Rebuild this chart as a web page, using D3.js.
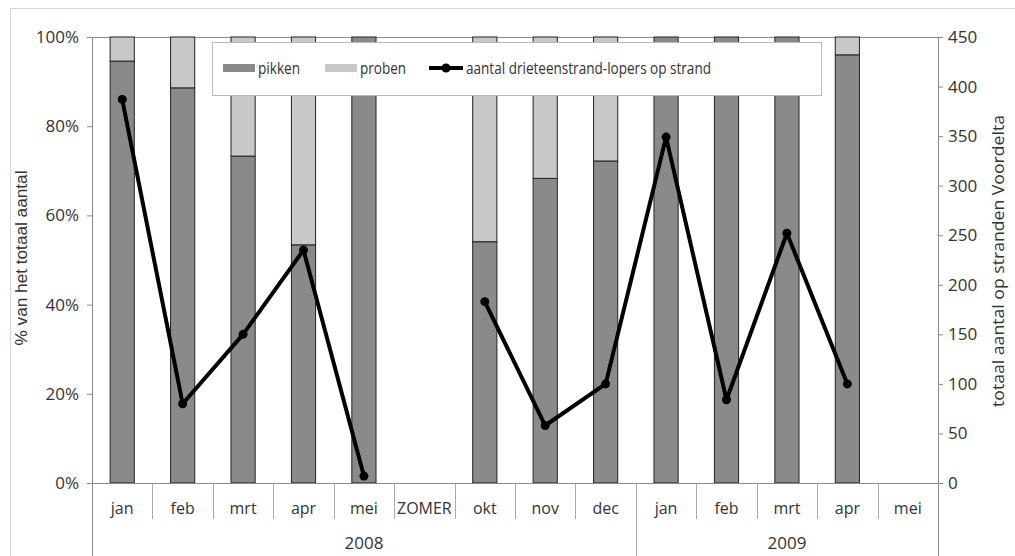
<!DOCTYPE html>
<html><head><meta charset="utf-8">
<script src="https://cdn.jsdelivr.net/npm/d3@7"></script>
<style>
html,body{margin:0;padding:0;background:#fff;}
text{font-family:"Open Sans","Noto Sans",sans-serif;fill:#333;}
</style></head>
<body><svg id="c" width="1015" height="556"></svg>
<script>
const months = ["jan","feb","mrt","apr","mei","ZOMER","okt","nov","dec","jan","feb","mrt","apr","mei"];
const yearLabels = ["2008","2009"];
const yearStart = [0, 9];
const yearEnd = [8, 13];
const pikken = [94.6, 88.6, 73.3, 53.4, 100, null, 54.1, 68.3, 72.2, 100, 100, 100, 96.0, null];
const proben = [5.4, 11.4, 26.7, 46.6, 0, null, 45.9, 31.7, 27.8, 0, 0, 0, 4.0, null];
const counts = [387, 80, 150, 235, 7, null, 183, 58, 100, 349, 84, 252, 100, null];
const pctTicks = [0, 20, 40, 60, 80, 100];
const cntTicks = [0, 50, 100, 150, 200, 250, 300, 350, 400, 450];

const svg = d3.select("#c");
const L = 92, R = 938, T = 37, B = 483;
const idx = months.map((d,i)=>i);
const x = d3.scaleBand().domain(idx).range([L,R]).paddingInner(0.6).paddingOuter(0.3);
const step = x.step();
const yP = d3.scaleLinear().domain([0,100]).range([B,T]);
const yC = d3.scaleLinear().domain([0,450]).range([B,T]);
const boundary = i => x(i) - (step - x.bandwidth())/2;
const FONT = '"Open Sans","Noto Sans",sans-serif';

// outer frame
svg.append("rect").attr("x",10.5).attr("y",8.5).attr("width",1010).attr("height",560)
  .attr("fill","none").attr("stroke","#d8d8d8");

const axisCol = "#8a8a8a";
svg.append("line").attr("x1",L).attr("x2",R).attr("y1",T+0.5).attr("y2",T+0.5).attr("stroke",axisCol);

// bars
const g = svg.append("g");
idx.forEach(i=>{
  if (pikken[i]==null) return;
  g.append("rect").attr("x",x(i)).attr("width",x.bandwidth())
    .attr("y",yP(pikken[i])).attr("height",yP(0)-yP(pikken[i]))
    .attr("fill","#8a8a8a").attr("stroke","#222").attr("stroke-width",1);
  if (proben[i]>0) {
    g.append("rect").attr("x",x(i)).attr("width",x.bandwidth())
      .attr("y",yP(pikken[i]+proben[i])).attr("height",yP(pikken[i])-yP(pikken[i]+proben[i]))
      .attr("fill","#c8c8c8").attr("stroke","#222").attr("stroke-width",1);
  }
});

// left axis
const la = svg.append("g").attr("transform",`translate(${L},0)`)
  .call(d3.axisLeft(yP).tickValues(pctTicks).tickFormat(d=>d+"%").tickSize(5).tickPadding(8));
la.select(".domain").remove();
la.selectAll("line").attr("stroke",axisCol);
la.selectAll("text").attr("font-size",17).style("font-family",FONT).attr("fill","#333");
svg.append("line").attr("x1",L+0.5).attr("x2",L+0.5).attr("y1",T).attr("y2",556).attr("stroke",axisCol);

// right axis
const ra = svg.append("g").attr("transform",`translate(${R},0)`)
  .call(d3.axisRight(yC).tickValues(cntTicks).tickSize(5).tickPadding(5));
ra.select(".domain").remove();
ra.selectAll("line").attr("stroke",axisCol);
ra.selectAll("text").attr("font-size",17).style("font-family",FONT).attr("fill","#333");
svg.append("line").attr("x1",R+0.5).attr("x2",R+0.5).attr("y1",T).attr("y2",556).attr("stroke",axisCol);

// bottom axis
svg.append("line").attr("x1",L).attr("x2",R).attr("y1",B+0.5).attr("y2",B+0.5).attr("stroke",axisCol);
idx.slice(1).forEach(i=>{
  const bx = Math.round(boundary(i))+0.5;
  const long = yearStart.includes(i);
  svg.append("line").attr("x1",bx).attr("x2",bx).attr("y1",B).attr("y2",long?556:519).attr("stroke","#aaa");
});
svg.append("g").selectAll("text").data(idx).join("text")
  .attr("x",i=>x(i)+x.bandwidth()/2).attr("y",514).attr("text-anchor","middle")
  .attr("font-size",16).text(i=>months[i]);
svg.append("g").selectAll("text").data(yearLabels).join("text")
  .attr("x",(d,k)=>(boundary(yearStart[k]) + boundary(yearEnd[k]) + step)/2)
  .attr("y",549).attr("text-anchor","middle").attr("font-size",17).text(d=>d);

// line
const line = d3.line().defined(i=>counts[i]!=null)
  .x(i=>x(i)+x.bandwidth()/2).y(i=>yC(counts[i]));
svg.append("path").datum(idx).attr("d",line).attr("fill","none")
  .attr("stroke","#000").attr("stroke-width",4).attr("stroke-linejoin","round");
svg.append("g").selectAll("circle").data(idx.filter(i=>counts[i]!=null)).join("circle")
  .attr("cx",i=>x(i)+x.bandwidth()/2).attr("cy",i=>yC(counts[i])).attr("r",4.5).attr("fill","#000");

// axis titles
svg.append("text").attr("transform","translate(27,258) rotate(-90)").attr("text-anchor","middle")
  .attr("font-size",17).attr("textLength",175).attr("lengthAdjust","spacingAndGlyphs")
  .style("font-family",'"Liberation Sans",Arial,sans-serif').text("% van het totaal aantal");
svg.append("text").attr("transform","translate(1004,261) rotate(-90)").attr("text-anchor","middle")
  .attr("font-size",17).attr("textLength",292).attr("lengthAdjust","spacingAndGlyphs")
  .text("totaal aantal op stranden Voordelta");

// legend
const lg = svg.append("g");
lg.append("rect").attr("x",212.5).attr("y",42.5).attr("width",609).attr("height",53)
  .attr("fill","#fff").attr("stroke","#bbb");
const ly = 68;
lg.append("rect").attr("x",223).attr("y",ly-4).attr("width",32).attr("height",8).attr("fill","#8a8a8a");
lg.append("text").attr("x",258).attr("y",ly+6).attr("font-size",17)
  .attr("textLength",42).attr("lengthAdjust","spacingAndGlyphs").text("pikken");
lg.append("rect").attr("x",325).attr("y",ly-4).attr("width",32).attr("height",8).attr("fill","#c8c8c8");
lg.append("text").attr("x",360).attr("y",ly+6).attr("font-size",17)
  .attr("textLength",46).attr("lengthAdjust","spacingAndGlyphs").text("proben");
lg.append("line").attr("x1",429).attr("x2",463).attr("y1",ly).attr("y2",ly).attr("stroke","#000").attr("stroke-width",4);
lg.append("circle").attr("cx",446).attr("cy",ly).attr("r",4.5).attr("fill","#000");
lg.append("text").attr("x",466).attr("y",ly+6).attr("font-size",17)
  .attr("textLength",245).attr("lengthAdjust","spacingAndGlyphs").text("aantal drieteenstrand-lopers op strand");
</script></body></html>
